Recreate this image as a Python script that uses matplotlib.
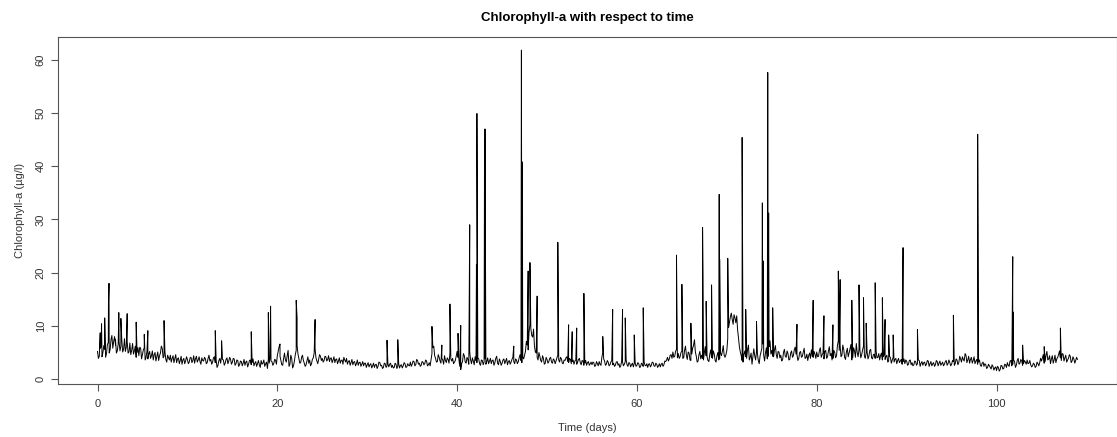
import numpy as np
import matplotlib.pyplot as plt

plt.rcParams['font.family'] = ['Liberation Sans', 'DejaVu Sans']

# chlorophyll-a readings (ug/l), one every 0.2 days starting at day 0
step = 0.2
base_chl = [
    5.2, 4.3, 6.1, 5.0, 5.6, 4.8, 6.9, 5.5, 8.2, 7.1, 6.4, 5.3, 7.0, 6.2, 5.1, 7.6, 6.0, 4.9, 6.8, 5.4, 4.7, 6.2, 5.0, 4.4, 5.8,
    4.6, 5.9, 4.1, 3.8, 5.2, 4.4, 3.6, 5.0, 4.2, 3.5, 4.9, 5.8, 4.3, 3.7, 4.5, 3.6, 3.2, 4.4, 3.9, 3.1, 4.0, 3.5, 2.8, 3.9, 3.4,
    3.7, 3.2, 4.1, 3.5, 3.0, 4.3, 3.6, 3.3, 4.0, 3.4, 3.8, 3.1, 4.5, 3.7, 3.2, 4.2, 3.5, 2.6, 3.9, 4.4, 3.6, 3.0, 4.0, 3.4, 3.7,
    3.2, 3.8, 2.9, 3.5, 2.7, 3.3, 3.0, 2.6, 3.4, 2.8, 3.6, 3.1, 2.5, 3.3, 2.9, 2.7, 3.5, 3.0, 2.4, 3.2, 3.8, 4.1, 3.3, 2.9, 3.6,
    4.4, 6.1, 3.5, 2.6, 4.9, 3.2, 5.4, 2.8, 3.9, 2.5, 4.6, 6.3, 3.8, 3.1, 4.5, 3.0, 2.7, 4.2, 3.6, 2.9, 4.0, 5.7, 3.4, 3.8, 4.3,
    3.9, 3.5, 4.2, 3.7, 3.3, 4.0, 3.6, 3.1, 3.8, 3.4, 3.0, 3.6, 4.1, 3.2, 2.8, 3.5, 3.1, 2.7, 3.3, 2.9, 2.6, 3.2, 2.8, 2.5, 3.0,
    2.7, 2.3, 2.9, 2.5, 2.2, 2.8, 2.4, 3.1, 2.6, 2.2, 2.9, 2.5, 2.3, 3.0, 2.6, 2.2, 2.8, 2.4, 2.1, 2.7, 2.5, 2.9, 2.3, 2.6, 3.2,
    2.8, 3.3, 2.7, 3.5, 3.0, 2.6, 3.2, 2.9, 3.4, 2.7, 2.5, 4.8, 6.2, 3.9, 3.3, 4.1, 3.0, 3.6, 4.4, 3.1, 3.7, 4.9, 3.4, 2.9, 3.5,
    5.2, 3.6, 1.8, 3.3, 4.4, 3.0, 3.7, 5.1, 2.9, 3.4, 4.2, 3.1, 3.8, 2.6, 3.5, 3.2, 2.8, 4.0, 3.4, 2.9, 3.6, 3.1, 4.3, 2.7, 3.3,
    3.0, 3.8, 3.4, 2.7, 3.5, 3.2, 4.1, 2.9, 3.6, 3.3, 4.6, 3.1, 3.8, 5.2, 6.4, 8.8, 9.5, 7.9, 6.2, 4.9, 3.6, 4.3, 3.2, 3.9, 3.0,
    3.7, 3.3, 4.1, 3.0, 3.6, 3.4, 4.5, 3.2, 3.8, 2.9, 3.5, 4.2, 3.1, 3.7, 3.3, 2.8, 3.6, 3.2, 3.9, 2.7, 3.4, 3.0, 2.6, 3.3, 2.9,
    2.7, 3.1, 2.5, 2.9, 3.3, 2.6, 5.0, 3.4, 2.8, 3.2, 2.7, 3.5, 3.0, 2.6, 3.3, 2.9, 2.5, 3.2, 2.8, 3.6, 2.4, 3.0, 2.7, 2.3, 3.1,
    2.6, 2.9, 2.3, 2.8, 3.2, 2.5, 2.2, 2.9, 2.6, 3.1, 2.4, 2.8, 2.5, 2.3, 3.0, 2.7, 3.3, 4.1, 3.8, 4.6, 5.1, 4.3, 5.6, 4.8, 4.2,
    5.3, 4.0, 6.2, 3.7, 4.9, 3.5, 5.8, 7.4, 4.3, 3.4, 5.2, 4.5, 3.6, 6.1, 4.2, 3.3, 5.5, 3.9, 4.7, 3.2, 5.0, 3.8, 4.4, 6.3, 4.1,
    5.4, 9.7, 11.8, 11.2, 12.1, 10.6, 9.2, 6.0, 4.4, 3.2, 5.3, 3.9, 6.4, 4.1, 2.8, 5.7, 3.6, 4.8, 2.9, 5.1, 6.6, 3.4, 5.9, 4.3, 7.2,
    5.4, 4.2, 6.3, 3.9, 5.1, 4.5, 3.6, 5.6, 4.1, 4.8, 3.7, 5.3, 4.4, 6.0, 4.6, 3.9, 5.2, 4.3, 5.8, 4.0, 3.5, 4.9, 5.5, 4.1, 4.7,
    5.1, 4.3, 5.9, 4.6, 3.8, 5.4, 4.2, 6.1, 4.8, 3.9, 5.0, 4.4, 7.2, 6.3, 4.5, 5.6, 3.7, 5.8, 4.9, 6.5, 4.0, 5.3, 6.7, 4.2, 5.5,
    4.6, 6.2, 3.9, 5.1, 4.3, 5.6, 3.8, 4.7, 5.3, 4.1, 3.6, 4.9, 4.2, 3.7, 4.5, 3.4, 4.0, 3.6, 3.2, 3.9, 3.5, 3.1, 3.7, 3.3, 2.9,
    3.4, 2.8, 3.6, 3.1, 2.7, 3.3, 2.9, 3.5, 3.0, 2.6, 3.2, 2.8, 3.4, 2.9, 2.5, 3.1, 2.7, 3.3, 3.0, 2.6, 3.2, 2.8, 3.5, 2.9, 3.1,
    2.8, 3.3, 2.9, 3.6, 3.1, 3.8, 4.2, 3.4, 4.5, 3.6, 3.0, 4.1, 3.5, 2.9, 3.7, 3.2, 2.6, 3.0, 2.4, 2.7, 2.2, 2.5, 1.9, 2.4, 2.1,
    1.6, 2.2, 1.8, 2.5, 2.0, 2.7, 3.1, 2.4, 3.5, 2.8, 3.3, 2.6, 3.9, 3.0, 3.4, 2.9, 3.2, 3.6, 3.0, 2.7, 2.5, 2.8, 2.4, 2.9, 3.1,
    3.4, 4.6, 3.3, 5.2, 3.8, 2.9, 4.4, 3.6, 3.1, 4.1, 5.3, 3.5, 4.7, 4.0, 3.2, 3.9, 4.3, 3.4, 3.8, 3.5, 3.7,
]

# readings taken halfway between the ones above (day 0.1, 0.3, ...)
mid_chl = [
    3.9, 5.8, 4.2, 6.3, 4.1, 6.5, 4.9, 7.4, 5.8, 8.0, 4.9, 6.6, 5.3, 7.4, 5.6, 5.2, 7.1, 5.1, 4.6, 6.7, 5.3, 4.1, 5.9, 6.0, 3.8,
    5.5, 3.6, 5.2, 4.7, 3.9, 5.3, 4.6, 3.4, 5.1, 4.4, 6.2, 4.0, 5.1, 3.2, 4.0, 4.5, 3.9, 3.1, 4.6, 3.8, 2.9, 4.3, 3.6, 2.9, 4.2,
    2.9, 4.0, 3.1, 4.4, 3.8, 3.2, 4.2, 2.8, 3.5, 4.1, 2.9, 3.9, 3.4, 2.8, 4.0, 3.1, 2.2, 3.5, 3.0, 3.7, 2.6, 3.7, 2.9, 4.1, 2.8,
    3.9, 2.6, 3.6, 2.4, 3.4, 2.5, 3.7, 3.2, 2.3, 3.5, 2.7, 3.8, 3.0, 2.4, 3.5, 2.2, 2.8, 3.6, 2.9, 2.0, 3.0, 3.4, 2.6, 3.7, 2.8,
    5.2, 4.3, 2.7, 3.9, 3.6, 4.4, 2.4, 4.5, 2.1, 3.4, 5.4, 4.7, 3.0, 4.1, 3.5, 2.4, 3.5, 3.0, 2.5, 3.7, 4.9, 4.0, 2.9, 4.6, 3.5,
    3.2, 4.3, 3.4, 4.4, 3.9, 3.1, 4.2, 3.7, 2.9, 4.0, 3.5, 2.8, 3.6, 3.9, 3.3, 2.6, 3.7, 3.2, 2.5, 3.6, 3.1, 2.4, 3.3, 3.0, 2.2,
    3.1, 2.7, 2.1, 3.0, 2.7, 2.0, 3.2, 2.5, 2.0, 3.0, 2.2, 2.9, 2.8, 2.2, 2.1, 3.0, 2.0, 2.9, 2.6, 2.1, 3.1, 2.2, 2.9, 2.5, 2.4,
    3.4, 2.5, 3.7, 2.8, 2.4, 3.3, 2.7, 3.6, 2.5, 3.1, 3.6, 5.9, 4.4, 3.2, 4.6, 3.4, 3.9, 2.8, 3.5, 4.0, 3.0, 3.8, 3.9, 3.2, 4.3,
    4.1, 2.4, 2.9, 4.8, 3.2, 4.1, 2.8, 3.6, 4.0, 2.7, 3.5, 4.0, 2.9, 3.6, 2.7, 3.8, 3.3, 2.9, 3.9, 3.5, 2.6, 3.9, 3.0, 3.8, 2.6,
    3.6, 2.9, 3.9, 3.3, 2.8, 3.7, 3.3, 3.8, 2.9, 4.0, 3.5, 4.2, 4.5, 7.1, 5.5, 10.3, 8.2, 9.4, 5.1, 4.1, 5.0, 3.5, 4.4, 2.8, 4.1,
    3.0, 3.9, 3.2, 3.8, 2.9, 4.0, 3.6, 4.1, 3.0, 3.6, 4.0, 3.3, 3.9, 2.9, 3.6, 3.4, 2.8, 3.7, 3.1, 3.5, 2.6, 3.5, 3.1, 2.6, 3.2,
    3.2, 2.4, 3.3, 2.5, 2.8, 4.1, 3.8, 2.6, 3.5, 2.5, 3.2, 2.7, 2.4, 3.2, 2.6, 2.2, 3.4, 2.5, 3.3, 2.7, 3.1, 2.3, 3.0, 2.9, 2.4,
    3.1, 2.2, 3.0, 2.4, 2.6, 2.9, 2.8, 2.3, 3.2, 2.5, 3.0, 2.2, 2.9, 2.8, 2.4, 3.4, 3.6, 3.4, 4.5, 3.9, 4.1, 5.2, 4.0, 3.9, 5.0,
    3.9, 5.4, 4.5, 5.1, 3.6, 4.7, 6.4, 5.1, 3.2, 4.6, 3.8, 3.9, 5.0, 4.4, 3.5, 4.6, 4.1, 5.3, 3.5, 4.4, 3.6, 4.9, 5.2, 4.5, 4.6,
    7.6, 10.8, 12.4, 10.3, 11.5, 11.9, 7.7, 5.1, 3.5, 4.6, 4.2, 5.5, 3.6, 4.9, 4.3, 4.4, 5.2, 3.5, 4.4, 5.8, 4.5, 5.0, 3.8, 6.1, 4.7,
    4.3, 5.5, 4.6, 5.2, 4.0, 3.4, 5.0, 4.3, 5.3, 3.6, 4.9, 4.1, 5.5, 4.7, 3.5, 5.0, 4.1, 5.1, 3.9, 4.7, 4.4, 3.9, 4.3, 5.2, 3.9,
    4.2, 5.4, 4.1, 4.9, 5.2, 3.9, 5.3, 4.4, 3.6, 5.4, 4.0, 6.3, 5.4, 4.2, 6.4, 4.1, 5.1, 4.2, 5.7, 3.6, 5.9, 4.1, 5.0, 5.6, 4.0,
    5.5, 4.3, 5.0, 3.8, 5.4, 4.0, 4.6, 3.9, 4.0, 4.8, 4.5, 3.6, 4.6, 4.2, 3.2, 4.3, 3.0, 4.1, 3.7, 2.9, 3.9, 3.4, 2.8, 3.8, 3.6,
    2.6, 3.5, 2.7, 2.5, 3.4, 2.6, 3.6, 2.4, 3.3, 3.1, 2.5, 3.5, 2.4, 3.3, 2.9, 2.4, 3.5, 2.5, 3.4, 2.9, 2.5, 3.3, 2.6, 3.6, 2.5,
    3.5, 2.6, 3.8, 2.7, 4.3, 3.2, 3.7, 4.8, 3.1, 4.3, 3.7, 3.0, 4.2, 3.4, 2.8, 3.6, 2.4, 3.2, 2.9, 2.0, 2.8, 2.2, 2.7, 1.7, 2.3,
    2.4, 1.5, 2.6, 1.9, 2.8, 2.2, 2.6, 3.4, 2.5, 3.6, 2.2, 3.5, 2.8, 3.7, 2.6, 3.5, 2.8, 2.9, 3.5, 2.3, 3.0, 2.2, 3.2, 2.5, 3.9,
    4.0, 3.0, 4.5, 3.6, 4.4, 3.8, 3.0, 4.5, 3.8, 4.6, 4.0, 4.8, 3.4, 4.5, 3.6, 4.6, 3.1, 4.2, 3.0, 4.1,
]

# short bloom peaks between the regular readings
spike_days = [
    0.3, 0.45, 0.8, 1.22, 1.28, 2.0, 2.37, 2.6, 3.3, 4.3, 5.2, 5.6, 7.4, 13.1, 13.8, 17.1,
    19.0, 19.25, 20.3, 22.1, 22.2, 24.2, 32.2, 33.4, 37.2, 38.3, 39.2, 40.1, 40.4, 41.4,
    42.15, 42.2, 43.05, 43.1, 46.3, 47.15, 47.25, 47.9, 48.1, 48.9, 51.2, 52.4, 52.8, 53.3,
    54.1, 56.2, 57.3, 58.4, 58.7, 59.7, 60.7, 64.4, 65.0, 66.0, 67.3, 67.35, 67.7, 68.3,
    69.15, 69.2, 70.1, 71.7, 72.1, 73.3, 73.95, 74.05, 74.55, 74.65, 75.1, 77.8, 79.6,
    80.8, 81.8, 82.4, 82.6, 83.9, 84.7, 85.2, 85.5, 86.5, 87.3, 87.6, 88.0, 88.5, 89.6,
    91.2, 95.2, 97.9, 101.8, 101.85, 102.9, 105.3, 107.1,
]
spike_chl = [
    8.7, 10.4, 11.5, 14.4, 18.0, 7.5, 12.5, 11.4, 12.3, 10.7, 8.4, 9.1, 11.0, 9.1, 7.2, 8.9,
    12.5, 13.7, 6.6, 14.8, 11.5, 11.2, 7.3, 7.4, 9.9, 6.4, 14.1, 8.6, 10.1, 29.0,
    21.5, 49.9, 45.1, 47.0, 6.2, 61.8, 40.8, 20.3, 21.9, 15.6, 25.7, 10.2, 8.9, 9.6,
    16.1, 8.0, 13.1, 13.1, 11.5, 8.3, 13.4, 23.3, 17.8, 10.5, 28.5, 19.2, 14.6, 17.7,
    34.7, 22.5, 22.7, 45.4, 13.1, 10.8, 33.1, 22.2, 57.6, 31.2, 13.4, 10.3, 14.8,
    11.9, 10.2, 20.3, 18.7, 14.8, 17.7, 15.3, 10.5, 18.1, 15.3, 11.2, 8.3, 8.3, 24.7,
    9.3, 12.0, 46.0, 23.0, 12.6, 6.4, 6.1, 9.6,
]

base_days = np.arange(len(base_chl)) * step
mid_days = np.arange(len(mid_chl)) * step + step / 2
days = np.concatenate([base_days, mid_days, spike_days])
chl = np.concatenate([base_chl, mid_chl, spike_chl])
order = np.argsort(days, kind="stable")
days, chl = days[order], chl[order]

fig = plt.figure(figsize=(11.17, 4.37), dpi=100)
ax = fig.add_axes([0.0522, 0.1213, 0.9475, 0.7933])

ax.plot(days, chl, color="black", linewidth=0.7)

# R-style axis ranges (4% padding)
pad_x = 0.04 * (days.max() - days.min())
pad_y = 0.04 * (chl.max() - chl.min())
ax.set_xlim(days.min() - pad_x, days.max() + pad_x)
ax.set_ylim(chl.min() - pad_y, chl.max() + pad_y)

ax.set_xticks([0, 20, 40, 60, 80, 100])
ax.set_yticks([0, 10, 20, 30, 40, 50, 60])
ax.tick_params(direction="out", length=5, width=0.8, color="#555555",
               labelsize=8, labelcolor="#333333")
ax.tick_params(axis="x", pad=6)
ax.tick_params(axis="y", pad=4)
for lab in ax.get_yticklabels():
    lab.set_rotation(90)
    lab.set_va("center")
for sp in ax.spines.values():
    sp.set_color("#555555")
    sp.set_linewidth(0.8)

ax.set_title("Chlorophyll-a with respect to time", fontsize=9.5,
             fontweight="bold", pad=12)
ax.set_xlabel("Time (days)", fontsize=8, color="#333333", labelpad=10)
ax.set_ylabel("Chlorophyll-a (\u00b5g/l)", fontsize=8, color="#333333",
              labelpad=8)

fig.savefig("out.png", dpi=100)
